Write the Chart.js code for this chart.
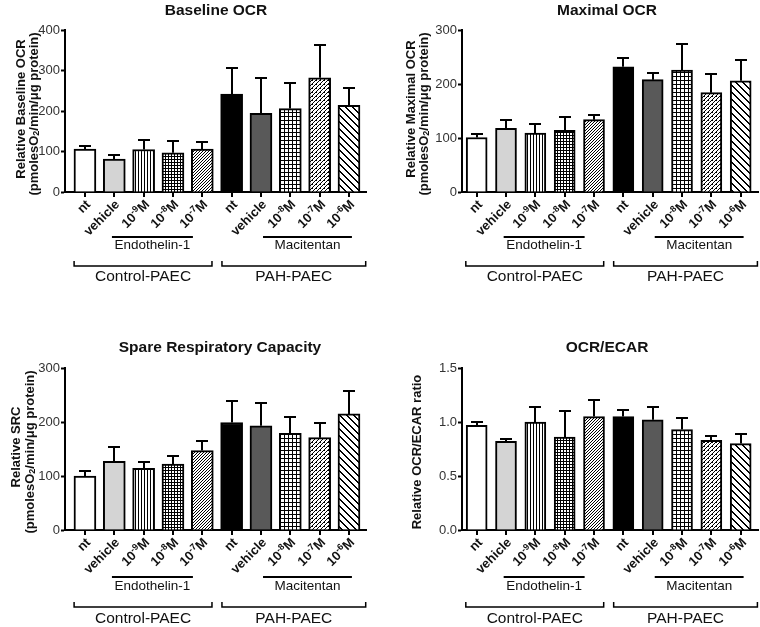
<!DOCTYPE html>
<html>
<head>
<meta charset="utf-8">
<script src="https://cdn.jsdelivr.net/npm/chart.js@4.4.0/dist/chart.umd.min.js"></script>
<style>
  html, body { margin: 0; padding: 0; background: #fff; }
  #wrap { position: relative; width: 760px; height: 627px; }
  canvas { position: absolute; }
</style>
</head>
<body>
<div id="wrap">
  <canvas id="baseline" width="380" height="314" style="left:0;top:0"></canvas>
  <canvas id="maximal" width="380" height="314" style="left:380px;top:0"></canvas>
  <canvas id="src" width="380" height="313" style="left:0;top:314px"></canvas>
  <canvas id="ratio" width="380" height="313" style="left:380px;top:314px"></canvas>
</div>
<script>
// ---- data ----
const categories = ["nt", "vehicle", "10^-9M", "10^-8M", "10^-7M", "nt", "vehicle", "10^-8M", "10^-7M", "10^-6M"];
const cellGroups = ["Control-PAEC", "PAH-PAEC"];
const treatments = ["Endothelin-1", "Macitentan"];

const baselineMean = [106, 81, 105, 97, 106, 242, 194, 206, 282, 214];
const baselineSem  = [8, 10, 23, 29, 17, 65, 88, 64, 82, 44];
const maximalMean  = [101, 118, 109, 114, 134, 232, 208, 226, 184, 206];
const maximalSem   = [7, 15, 16, 25, 8, 17, 13, 49, 34, 38];
const srcMean      = [100, 127, 114, 122, 147, 199, 193, 179, 171, 215];
const srcSem       = [10, 26, 12, 15, 18, 40, 42, 30, 28, 43];
const ratioMean    = [0.97, 0.82, 1.00, 0.86, 1.05, 1.05, 1.02, 0.93, 0.83, 0.80];
const ratioSem     = [0.03, 0.025, 0.14, 0.24, 0.15, 0.06, 0.115, 0.11, 0.04, 0.09];

const baselineTicks = ["0", "100", "200", "300", "400"];
const maximalTicks  = ["0", "100", "200", "300"];
const srcTicks      = ["0", "100", "200", "300"];
const ratioTicks    = ["0.0", "0.5", "1.0", "1.5"];

const FONT = "'Liberation Sans', Arial, Helvetica, sans-serif";

// ---- hatch fills ----
function tile(size, draw) {
  const c = document.createElement("canvas");
  c.width = size; c.height = size;
  const g = c.getContext("2d");
  g.fillStyle = "#fff";
  g.fillRect(0, 0, size, size);
  g.fillStyle = "#000";
  draw(g, size);
  return g.createPattern(c, "repeat");
}
const vLines = tile(3, g => g.fillRect(0, 0, 1, 3));
const fineGrid = tile(3, g => { g.fillRect(0, 0, 3, 1); g.fillRect(0, 0, 1, 3); });
const fineDiag = tile(3, g => { for (let i = 0; i < 3; i++) g.fillRect(i, 2 - i, 1, 1); });
const grid = tile(4, g => { g.fillRect(0, 0, 4, 1); g.fillRect(0, 0, 1, 4); });
const dashDiag = tile(4, g => { for (let i = 0; i < 4; i++) g.fillRect(i, 3 - i, 1, 1); g.fillRect(0, 0, 1, 1); });
const backDiag = tile(7, g => { for (let i = 0; i < 7; i++) { g.fillRect(i, i, 1, 1); g.fillRect((i + 1) % 7, i, 1, 1); } });

const fills = ["#ffffff", "#d4d4d4", vLines, fineGrid, fineDiag, "#000000", "#595959", grid, dashDiag, backDiag];

// ---- text helpers ----
function parseLabel(s) {
  const m = s.match(/^(.*)\^(-?\d+)(.*)$/);
  if (!m) return [{ t: s, k: "n" }];
  return [{ t: m[1], k: "n" }, { t: m[2], k: "sup" }, { t: m[3], k: "n" }];
}

function richWidth(ctx, parts, fonts) {
  let w = 0;
  parts.forEach(p => { ctx.font = fonts[p.k]; p.w = ctx.measureText(p.t).width; w += p.w; });
  return w;
}

function drawRich(ctx, parts, fonts, x0, y0) {
  let x = x0;
  parts.forEach(p => {
    ctx.font = fonts[p.k];
    const dy = p.k === "sup" ? -5 : p.k === "sub" ? 3 : 0;
    ctx.fillText(p.t, x, y0 + dy);
    x += p.w;
  });
}

const tickFonts = { n: "bold 13px " + FONT, sup: "bold 9px " + FONT };
const yTitleFonts = { n: "bold 13px " + FONT, sub: "bold 9px " + FONT };

function drawTickLabel(ctx, label, px, py) {
  const parts = parseLabel(label);
  ctx.save();
  ctx.translate(px, py);
  ctx.rotate(-Math.PI / 4);
  ctx.textBaseline = "alphabetic";
  ctx.textAlign = "left";
  const w = richWidth(ctx, parts, tickFonts);
  drawRich(ctx, parts, tickFonts, -w, 4.5);
  ctx.restore();
}

const decor = {
  id: "decor",
  afterDatasetsDraw(chart, args, o) {
    const ctx = chart.ctx, ys = chart.scales.y;
    const bars = chart.getDatasetMeta(0).data;
    ctx.save();
    ctx.strokeStyle = "#000";
    ctx.lineWidth = 2;
    bars.forEach((b, i) => {
      const x = Math.round(b.x);
      const top = Math.round(ys.getPixelForValue(o.mean[i] + o.sem[i]));
      ctx.beginPath();
      ctx.moveTo(x, b.y);
      ctx.lineTo(x, top);
      ctx.moveTo(x - 6, top);
      ctx.lineTo(x + 6, top);
      ctx.stroke();
    });
    ctx.restore();
  },
  afterDraw(chart, args, o) {
    const ctx = chart.ctx, xs = chart.scales.x, area = chart.chartArea;
    const base = area.bottom;
    ctx.save();
    ctx.strokeStyle = "#000";
    ctx.fillStyle = "#111";

    // x tick marks and rotated labels
    ctx.lineWidth = 2;
    categories.forEach((c, i) => {
      const px = Math.round(xs.getPixelForValue(i));
      ctx.beginPath();
      ctx.moveTo(px, base);
      ctx.lineTo(px, base + 5);
      ctx.stroke();
      drawTickLabel(ctx, c, px + 3, base + 10);
    });

    // treatment lines
    ctx.textAlign = "center";
    ctx.textBaseline = "middle";
    treatments.forEach((t, k) => {
      const [a, b] = o.treatSpan[k];
      const x1 = xs.getPixelForValue(a), x2 = xs.getPixelForValue(b);
      const yl = base + o.below[0];
      ctx.lineWidth = 2;
      ctx.beginPath();
      ctx.moveTo(x1, yl);
      ctx.lineTo(x2, yl);
      ctx.stroke();
      ctx.font = "13.5px " + FONT;
      ctx.fillText(t, (x1 + x2) / 2, base + o.below[1]);
    });

    // cell-type brackets
    cellGroups.forEach((t, k) => {
      const [a, b] = o.groupSpan[k];
      const x1 = xs.getPixelForValue(a), x2 = xs.getPixelForValue(b);
      const yb = base + o.below[2];
      ctx.lineWidth = 1.5;
      ctx.beginPath();
      ctx.moveTo(x1, yb - 5);
      ctx.lineTo(x1, yb);
      ctx.lineTo(x2, yb);
      ctx.lineTo(x2, yb - 5);
      ctx.stroke();
      ctx.font = "15.5px " + FONT;
      ctx.fillText(t, (x1 + x2) / 2, base + o.below[3]);
    });

    // panel title
    ctx.font = "bold 15.5px " + FONT;
    ctx.fillText(o.title, o.titlePos[0], o.titlePos[1]);

    // y axis title (rotated, with subscript)
    const yc = (area.top + area.bottom) / 2;
    o.yTitle.forEach((line, k) => {
      const parts = line.map(p => ({ t: p[0], k: p[1] }));
      ctx.save();
      ctx.translate(o.yTitleX[k], yc + (k === 0 && o.yTitle.length > 1 ? -2 : 3));
      ctx.rotate(-Math.PI / 2);
      ctx.textAlign = "left";
      ctx.textBaseline = "middle";
      const w = richWidth(ctx, parts, yTitleFonts);
      drawRich(ctx, parts, yTitleFonts, -w / 2, 0);
      ctx.restore();
    });
    ctx.restore();
  }
};

const unitLine = [["(pmolesO", "n"], ["2", "sub"], ["/min/\u03bcg protein)", "n"]];

const panels = [
  { id: "baseline", h: 314, plot: { l: 65, r: 366, t: 30, b: 192 }, xr: [-0.68, 9.58], barW: 22,
    mean: baselineMean, sem: baselineSem, ticks: baselineTicks, step: 100,
    title: "Baseline OCR", titlePos: [216, 11], yTitle: [[["Relative Baseline OCR", "n"]], unitLine], yTitleX: [21, 34],
    below: [45, 53, 74, 85] },
  { id: "maximal", h: 314, plot: { l: 82, r: 378, t: 30, b: 192 }, xr: [-0.5, 9.59], barW: 21,
    mean: maximalMean, sem: maximalSem, ticks: maximalTicks, step: 100,
    title: "Maximal OCR", titlePos: [227, 11], yTitle: [[["Relative Maximal OCR", "n"]], unitLine], yTitleX: [31, 44],
    below: [45, 53, 74, 85] },
  { id: "src", h: 313, plot: { l: 65, r: 366, t: 54, b: 216 }, xr: [-0.68, 9.58], barW: 22,
    mean: srcMean, sem: srcSem, ticks: srcTicks, step: 100,
    title: "Spare Respiratory Capacity", titlePos: [220, 34], yTitle: [[["Relative SRC", "n"]], unitLine], yTitleX: [16, 30],
    below: [47, 56, 77, 89] },
  { id: "ratio", h: 313, plot: { l: 82, r: 378, t: 54, b: 216 }, xr: [-0.5, 9.59], barW: 21,
    mean: ratioMean, sem: ratioSem, ticks: ratioTicks, step: 0.5,
    title: "OCR/ECAR", titlePos: [227, 34], yTitle: [[["Relative OCR/ECAR ratio", "n"]]], yTitleX: [37],
    below: [47, 56, 77, 89] }
];

panels.forEach(p => {
  const ctx = document.getElementById(p.id).getContext("2d");
  const yMax = (p.ticks.length - 1) * p.step;
  new Chart(ctx, {
    type: "bar",
    data: {
      datasets: [{
        data: p.mean.map((v, i) => ({ x: i, y: v })),
        backgroundColor: fills,
        borderColor: "#000",
        borderWidth: 2,
        borderSkipped: "bottom",
        barThickness: p.barW
      }]
    },
    options: {
      responsive: false,
      animation: false,
      devicePixelRatio: 1,
      layout: { padding: { top: p.plot.t, right: 380 - p.plot.r, bottom: 0, left: 0 } },
      plugins: {
        legend: { display: false },
        tooltip: { enabled: false },
        decor: {
          mean: p.mean, sem: p.sem, title: p.title, titlePos: p.titlePos,
          yTitle: p.yTitle, yTitleX: p.yTitleX, below: p.below,
          treatSpan: [[0.92, 3.68], [6.07, 9.1]],
          groupSpan: [[-0.37, 4.33], [4.67, 9.57]]
        }
      },
      scales: {
        x: {
          type: "linear",
          offset: false,
          min: p.xr[0],
          max: p.xr[1],
          ticks: { display: false },
          grid: { display: false, offset: false },
          border: { display: true, color: "#000", width: 2 },
          afterFit: s => { s.height = p.h - p.plot.b; }
        },
        y: {
          min: 0,
          max: yMax,
          afterBuildTicks: s => { s.ticks = p.ticks.map((t, i) => ({ value: i * p.step })); },
          ticks: {
            color: "#333",
            padding: 1,
            font: { family: FONT, size: 13 },
            callback: (v, i) => p.ticks[i]
          },
          grid: { drawOnChartArea: false, drawTicks: true, tickLength: 4, tickWidth: 2, tickColor: "#000" },
          border: { display: true, color: "#000", width: 2 },
          afterFit: s => { s.width = p.plot.l; }
        }
      }
    },
    plugins: [decor]
  });
});
</script>
</body>
</html>
